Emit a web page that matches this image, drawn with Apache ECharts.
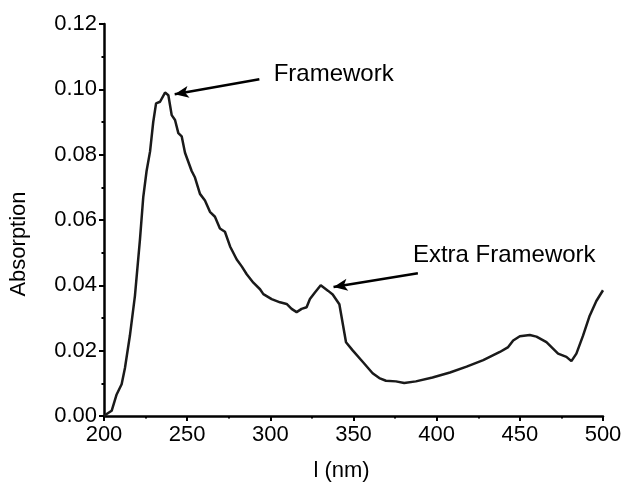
<!DOCTYPE html>
<html>
<head>
<meta charset="utf-8">
<script src="https://cdn.jsdelivr.net/npm/echarts@6/dist/echarts.min.js"></script>
<style>
  html, body { margin: 0; padding: 0; background: #fff; }
  #chart { width: 626px; height: 487px; }
</style>
</head>
<body>
<div id="chart"></div>
<script>
// wavelength (nm) and absorption
var wavelength = [200, 201.6, 204.6, 207.6, 210.6, 212.6, 215.6, 218.6, 221.6, 223.6, 225.6, 227.7, 229.6, 231.3, 233.7,
    236.7, 238.7, 240.7, 242.7, 244.7, 246.7, 248.7, 252.7, 254.7, 257.7, 260.7, 263.7, 266.7, 269.7, 272.7,
    275.8, 279.8, 282.8, 285.8, 289.8, 293.8, 295.8, 300.8, 305.8, 309.8, 312.8, 315.8, 318.8, 321.8, 323.8,
    326.8, 330.3, 334.8, 337.5, 341.5, 345.5, 349.5, 355.5, 361.5, 365.5, 369.5, 375.5, 380.5, 387.5, 397.5,
    408, 418, 428, 438, 443, 446, 450, 456, 460, 466, 473, 478, 481, 484, 488, 492, 496, 500];
var absorption = [0.000, 0.0006, 0.0016, 0.0066, 0.0097, 0.0147, 0.0247, 0.0368, 0.0539, 0.067, 0.075, 0.081, 0.090, 0.0957, 0.0962,
    0.099, 0.0982, 0.0921, 0.0906, 0.0866, 0.0856, 0.0806, 0.075, 0.073, 0.068, 0.066, 0.0625, 0.061, 0.0574, 0.0564,
    0.0519, 0.0479, 0.0458, 0.0434, 0.0408, 0.0388, 0.0373, 0.0358, 0.0348, 0.0343, 0.0328, 0.0318, 0.0328, 0.0333, 0.0358,
    0.0378, 0.0400, 0.0383, 0.0372, 0.0342, 0.0226, 0.0201, 0.0166, 0.0131, 0.0116, 0.0108, 0.0106, 0.0101, 0.0106, 0.0118,
    0.0133, 0.0151, 0.0171, 0.0196, 0.0211, 0.0231, 0.0244, 0.0248, 0.0243, 0.0226, 0.0191, 0.0181, 0.0168, 0.0191, 0.0246, 0.0307, 0.0352, 0.0385];

// annotation labels (left edge of text, in data units) and arrows [from, to]
var labelText = ['Framework', 'Extra Framework'];
var labelPos = [[302, 0.1043], [385.7, 0.0489]];
var arrowFrom = [[293.4, 0.1031], [388.7, 0.0437]];
var arrowTo = [[242.5, 0.0985], [338, 0.0395]];

var FONT = '"Liberation Sans", Arial, sans-serif';

var points = wavelength.map(function (w, i) { return [w, absorption[i]]; });
var arrows = arrowFrom.map(function (p, i) {
    return [{coord: p}, {coord: arrowTo[i]}];
});

var myChart = echarts.init(document.getElementById('chart'));
var option = {
    animation: false,
    grid: {left: 104, right: 23, top: 24, bottom: 65},
    xAxis: {
        type: 'value',
        min: 200, max: 500, interval: 50,
        name: 'l (nm)',
        nameLocation: 'middle',
        nameGap: 44,
        nameTextStyle: {fontFamily: FONT, fontSize: 22, color: '#000', padding: [0, 24, 0, 0]},
        axisLine: {lineStyle: {color: '#000', width: 2.5}},
        axisTick: {length: 5, lineStyle: {color: '#000', width: 2}},
        minorTick: {show: true, splitNumber: 2, length: 2.5, lineStyle: {color: '#000', width: 2}},
        axisLabel: {fontFamily: FONT, fontSize: 22, color: '#000', margin: 8},
        splitLine: {show: false}
    },
    yAxis: {
        type: 'value',
        min: 0, max: 0.12, interval: 0.02,
        name: 'Absorption',
        nameLocation: 'middle',
        nameGap: 74,
        // extra right padding pushes the rotated title down the axis
        nameTextStyle: {fontFamily: FONT, fontSize: 22, color: '#000', padding: [0, 48, 0, 0]},
        axisLine: {show: true, lineStyle: {color: '#000', width: 2.5}},
        axisTick: {show: true, length: 5, lineStyle: {color: '#000', width: 2}},
        minorTick: {show: true, splitNumber: 2, length: 2.5, lineStyle: {color: '#000', width: 2}},
        axisLabel: {
            fontFamily: FONT, fontSize: 22, color: '#000', margin: 7,
            formatter: function (v) { return v.toFixed(2); }
        },
        splitLine: {show: false}
    },
    series: [{
        type: 'line',
        data: points,
        showSymbol: false,
        lineStyle: {color: '#1a1a1a', width: 2.5},
        markLine: {
            silent: true,
            symbol: ['none', 'arrow'],
            symbolSize: [9, 14],
            label: {show: false},
            lineStyle: {color: '#000', width: 2.5, type: 'solid'},
            data: arrows
        }
    }]
};
myChart.setOption(option);

// place annotation texts through the axes
myChart.setOption({
    graphic: labelText.map(function (t, i) {
        var p = myChart.convertToPixel({gridIndex: 0}, labelPos[i]);
        return {
            type: 'text', left: p[0], top: p[1] - 13,
            style: {text: t, font: '24px ' + FONT, fill: '#000'}
        };
    })
});
</script>
</body>
</html>
